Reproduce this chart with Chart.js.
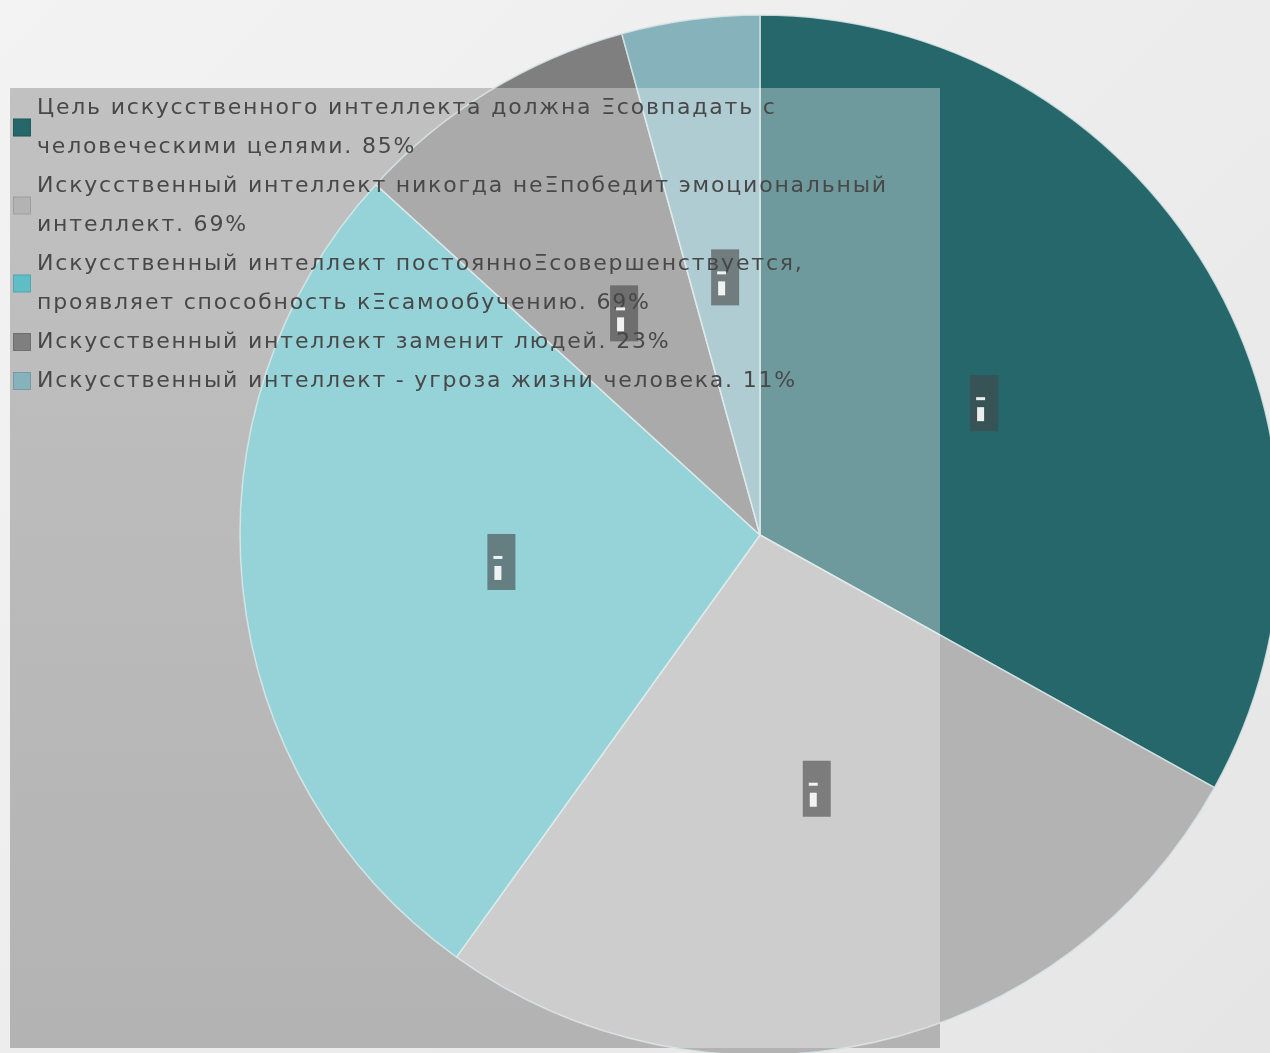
<!DOCTYPE html>
<html lang="ru">
<head>
<meta charset="utf-8">
<script src="https://cdn.jsdelivr.net/npm/chart.js@4.4.1/dist/chart.umd.min.js"></script>
<style>
  html, body { margin: 0; width: 1270px; height: 1053px; overflow: hidden; }
  body { background: linear-gradient(135deg, #f3f3f3 0%, #ececec 55%, #e5e5e5 100%); }
  #wrap { position: absolute; left: 0; top: 0; width: 1300px; height: 1100px; }
</style>
</head>
<body>
<div id="wrap"><canvas id="aiPie"></canvas></div>
<script>
// survey answers, the value is appended to the last line of each label
const opinions = [
  ["Цель искусственного интеллекта должна Ξсовпадать с", "человеческими целями."],
  ["Искусственный интеллект никогда неΞпобедит эмоциональный", "интеллект."],
  ["Искусственный интеллект постоянноΞсовершенствуется,", "проявляет способность кΞсамообучению."],
  ["Искусственный интеллект заменит людей."],
  ["Искусственный интеллект - угроза жизни человека."]
];
const shares = [85, 69, 69, 23, 11];
const sliceColors = ["#25676b", "#b3b3b3", "#5ebdc5", "#7f7f7f", "#86b2bc"];

// legend panel sits under the pie, the pie part over it is washed out
const panel = { x: 10, y: 88, w: 930, h: 960 };

const panelPlugin = {
  id: "panel",
  beforeDatasetsDraw(chart) {
    const ctx = chart.ctx;
    const g = ctx.createLinearGradient(0, panel.y, 0, panel.y + panel.h);
    g.addColorStop(0, "#c1c1c1");
    g.addColorStop(1, "#b3b3b3");
    ctx.save();
    ctx.fillStyle = g;
    ctx.fillRect(panel.x, panel.y, panel.w, panel.h);
    ctx.restore();
  },
  afterDatasetsDraw(chart) {
    const ctx = chart.ctx;
    const arcs = chart.getDatasetMeta(0).data;
    const a0 = arcs[0];

    // wash over the pie inside the panel
    ctx.save();
    ctx.beginPath();
    ctx.rect(panel.x, panel.y, panel.w, panel.h);
    ctx.clip();
    ctx.beginPath();
    ctx.arc(a0.x, a0.y, a0.outerRadius, 0, Math.PI * 2);
    ctx.fillStyle = "rgba(255,255,255,0.34)";
    ctx.fill();
    ctx.restore();

    // legend entries
    ctx.save();
    ctx.font = '22px "DejaVu Sans"';
    ctx.letterSpacing = "1.8px";
    ctx.textBaseline = "middle";
    let y = 108;
    opinions.forEach((lines, i) => {
      const txt = lines.slice();
      txt[txt.length - 1] += " " + shares[i] + "%";
      const first = y;
      txt.forEach(line => {
        ctx.fillStyle = "#484848";
        ctx.fillText(line, 37, y);
        y += 39;
      });
      const mid = (first + y - 39) / 2;
      ctx.fillStyle = sliceColors[i];
      ctx.fillRect(13, mid - 9, 18, 18);
      ctx.strokeStyle = "rgba(0,0,0,0.12)";
      ctx.lineWidth = 1;
      ctx.strokeRect(13.5, mid - 8.5, 17, 17);
    });
    ctx.restore();

    // value tags in the slices
    ctx.save();
    arcs.forEach(arc => {
      const p = arc.tooltipPosition();
      ctx.fillStyle = "rgba(70,70,70,0.6)";
      ctx.fillRect(p.x - 14, p.y - 28, 28, 56);
      ctx.fillStyle = "rgba(255,255,255,0.9)";
      ctx.fillRect(p.x - 8, p.y - 6, 9, 3);
      ctx.fillRect(p.x - 7, p.y + 4, 7, 14);
    });
    ctx.restore();
  }
};

new Chart(document.getElementById("aiPie"), {
  type: "pie",
  data: {
    labels: opinions.map(l => l.join(" ")),
    datasets: [
      {
        data: shares,
        backgroundColor: sliceColors,
        borderColor: "rgba(215,228,228,0.85)",
        borderWidth: 1.5,
        hoverOffset: 0
      }
    ]
  },
  options: {
    responsive: true,
    maintainAspectRatio: false,
    animation: false,
    radius: 520,
    layout: {
      padding: { left: 240, top: 15, right: 20, bottom: 45 }
    },
    plugins: {
      legend: { display: false },
      tooltip: { enabled: false }
    }
  },
  plugins: [panelPlugin]
});
</script>
</body>
</html>
